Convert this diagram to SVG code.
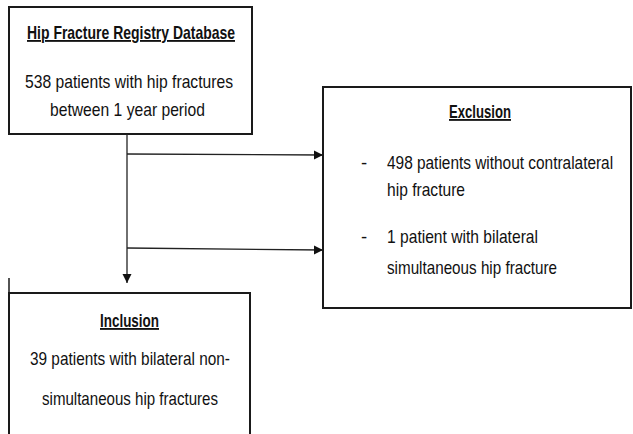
<svg xmlns="http://www.w3.org/2000/svg" width="633" height="434" viewBox="0 0 633 434">
<defs>
<style>
.box{fill:#fff;stroke:#1a1a1a;stroke-width:2}
.t{font-family:"Liberation Sans",Arial,sans-serif;font-size:18.5px;fill:#111}
.h{font-weight:bold;text-decoration:underline}
.c{fill:none;stroke:#222;stroke-width:1.3}
</style>
<marker id="ah" markerWidth="10" markerHeight="10" refX="9" refY="5" orient="auto" markerUnits="userSpaceOnUse">
<path d="M0,0.5 L9,5 L0,9.5 Z" fill="#111"/>
</marker>
</defs>
<rect width="633" height="434" fill="#fff"/>
<g id="registry">
<rect class="box" x="9" y="7" width="243" height="127"/>
<text class="t h" x="27" y="39" textLength="208" lengthAdjust="spacingAndGlyphs">Hip Fracture Registry Database</text>
<text class="t" x="25" y="88" textLength="208" lengthAdjust="spacingAndGlyphs">538 patients with hip fractures</text>
<text class="t" x="50" y="116" textLength="155" lengthAdjust="spacingAndGlyphs">between 1 year period</text>
</g>
<g id="exclusion">
<rect class="box" x="323" y="87" width="308" height="221"/>
<text class="t h" x="449" y="118" textLength="62" lengthAdjust="spacingAndGlyphs">Exclusion</text>
<text class="t" x="361" y="169">-</text>
<text class="t" transform="translate(387,169) scale(0.7,1)" x="0" y="0" textLength="323" lengthAdjust="spacingAndGlyphs">498 patients without contralateral</text>
<text class="t" x="387" y="196" textLength="78" lengthAdjust="spacingAndGlyphs">hip fracture</text>
<text class="t" x="361" y="243">-</text>
<text class="t" x="387" y="243" textLength="151" lengthAdjust="spacingAndGlyphs">1 patient with bilateral</text>
<text class="t" x="387" y="274" textLength="170" lengthAdjust="spacingAndGlyphs">simultaneous hip fracture</text>
</g>
<g id="inclusion">
<path class="box" d="M9,434 L9,293 L250,293 L250,434" />
<line x1="9" y1="278" x2="9" y2="293" stroke="#1a1a1a" stroke-width="1.5"/>
<text class="t h" x="100" y="327" textLength="59" lengthAdjust="spacingAndGlyphs">Inclusion</text>
<text class="t" x="30" y="365" textLength="200" lengthAdjust="spacingAndGlyphs">39 patients with bilateral non-</text>
<text class="t" x="42" y="405" textLength="176" lengthAdjust="spacingAndGlyphs">simultaneous hip fractures</text>
</g>
<g id="connectors">
<path class="c" d="M127,134 L127,283" marker-end="url(#ah)"/>
<path class="c" d="M127,154 L323,155" marker-end="url(#ah)"/>
<path class="c" d="M127,248 L323,250" marker-end="url(#ah)"/>
</g>
</svg>
